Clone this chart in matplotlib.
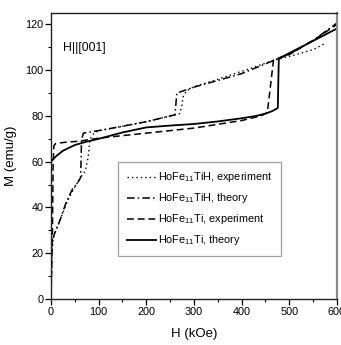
import matplotlib
matplotlib.use('Agg')
import matplotlib.pyplot as plt

plt.rcParams['font.family'] = ['Liberation Sans', 'DejaVu Sans']
plt.rcParams['mathtext.fontset'] = 'custom'
plt.rcParams['mathtext.rm'] = 'Liberation Sans'
plt.rcParams['mathtext.default'] = 'rm'

# HoFe11TiH, experiment
h_tih_exp = [0, 1, 2, 5, 20, 35, 50, 62, 72, 78, 82, 90, 100, 150, 200, 270, 274,
             278, 285, 300, 350, 400, 470, 500, 550, 578]
m_tih_exp = [0, 10, 20, 27, 35, 43, 49, 53, 56, 62, 70, 72.5, 73.5, 75.5, 77.5, 81,
             84, 89, 91, 92.8, 96, 99.5, 104.5, 106, 109, 112]

# HoFe11TiH, theory
h_tih_th = [0, 0.8, 1.5, 8, 19, 33, 45, 55, 62, 63, 64, 68, 100, 150, 200, 260, 262,
            264, 300, 350, 400, 470, 500, 550, 600]
m_tih_th = [0, 12, 24.5, 29, 34.5, 43, 48, 50.5, 53, 60, 69.5, 72.5, 73.6, 75.5, 77.5,
            80.5, 85, 90, 92.6, 95.5, 98.5, 104.5, 107, 113, 120.6]

# HoFe11Ti, experiment
h_ti_exp = [0, 3, 4.5, 6, 10, 30, 60, 100, 200, 300, 400, 440, 454, 467, 480, 500,
            550, 600]
m_ti_exp = [0, 30, 60, 67, 68, 68.5, 69, 70.3, 72.5, 74.7, 78, 80, 81.5, 104.5, 105.5,
            106.8, 113, 120]

# HoFe11Ti, theory
h_ti_th = [0, 10, 25, 50, 75, 100, 150, 200, 250, 300, 350, 400, 430, 450, 465, 476,
           477, 478, 480, 500, 550, 600]
m_ti_th = [60, 62.3, 64.8, 67.3, 68.8, 70, 72.8, 75, 75.8, 76.5, 77.6, 79, 80, 81,
           82.2, 83.5, 95, 104.5, 105.3, 107.5, 112.8, 118.2]

fig = plt.figure(figsize=(3.41, 3.45), dpi=100)
ax = fig.add_axes([0.1496, 0.1333, 0.8384, 0.829])

ax.plot(h_tih_exp, m_tih_exp, color='k', lw=1.0, linestyle=(0, (1, 2.2)),
        label='HoFe$_{11}$TiH, experiment')
ax.plot(h_tih_th, m_tih_th, color='k', lw=1.1, linestyle=(0, (5, 2, 1, 2)),
        label='HoFe$_{11}$TiH, theory')
ax.plot(h_ti_exp, m_ti_exp, color='k', lw=1.1, linestyle=(0, (4.5, 2.5)),
        label='HoFe$_{11}$Ti, experiment')
ax.plot(h_ti_th, m_ti_th, color='k', lw=1.3, linestyle='-',
        label='HoFe$_{11}$Ti, theory')

ax.set_xlim(0, 600)
ax.set_ylim(0, 125)
ax.set_xticks(range(0, 601, 100))
ax.set_xticks(range(50, 600, 100), minor=True)
ax.set_yticks(range(0, 121, 20))
ax.set_yticks(range(10, 121, 20), minor=True)
ax.tick_params(which='major', direction='out', length=4, width=0.9, labelsize=7.8, pad=1.5)
ax.tick_params(which='minor', direction='out', length=2.5, width=0.8)
for lab in ax.get_xticklabels():
    lab.set_clip_on(False)

for side in ['left', 'bottom', 'top']:
    ax.spines[side].set_linewidth(1.0)
    ax.spines[side].set_color('#222222')
ax.spines['right'].set_color('#8a8a8a')
ax.spines['right'].set_linewidth(1.6)

ax.set_xlabel('H (kOe)', fontsize=9.5, labelpad=8)
ax.set_ylabel('M (emu/g)', fontsize=9.5, labelpad=6)

ax.text(0.042, 0.877, 'H||[001]', transform=ax.transAxes, fontsize=8.8,
        ha='left', va='center')

leg = ax.legend(loc='lower left', bbox_to_anchor=(0.235, 0.15), fontsize=7.8,
                frameon=True, fancybox=False, handlelength=2.7, handletextpad=0.2,
                labelspacing=0.65, borderpad=0.8, borderaxespad=0)
leg.get_frame().set_edgecolor('#888888')
leg.get_frame().set_linewidth(0.9)

fig.savefig('out.png', dpi=100)
